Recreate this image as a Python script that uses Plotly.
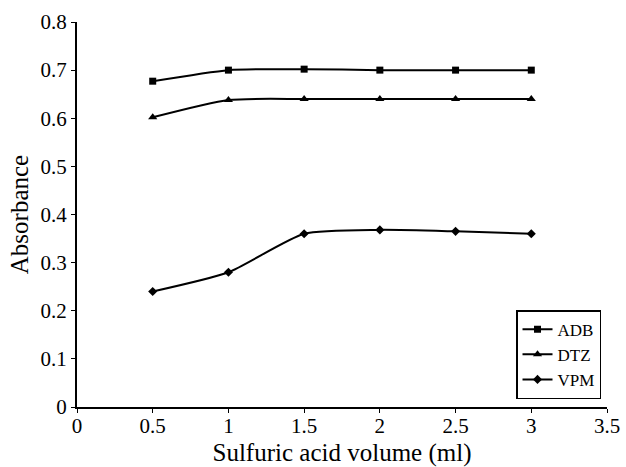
import plotly.graph_objects as go

x_vals = [0.5, 1.0, 1.5, 2.0, 2.5, 3.0]
adb = [0.677, 0.700, 0.702, 0.700, 0.700, 0.700]
dtz = [0.602, 0.638, 0.640, 0.640, 0.640, 0.640]
vpm = [0.240, 0.280, 0.360, 0.368, 0.365, 0.360]

x_ticks = [0, 0.5, 1, 1.5, 2, 2.5, 3, 3.5]
x_tick_labels = ["0", "0.5", "1", "1.5", "2", "2.5", "3", "3.5"]
y_ticks = [0, 0.1, 0.2, 0.3, 0.4, 0.5, 0.6, 0.7, 0.8]
y_tick_labels = ["0", "0.1", "0.2", "0.3", "0.4", "0.5", "0.6", "0.7", "0.8"]

series = [("ADB", adb, "square", 7), ("DTZ", dtz, "triangle-up", 8), ("VPM", vpm, "diamond", 7)]

fig = go.Figure()
for name, vals, sym, sz in series:
    fig.add_trace(go.Scatter(
        x=x_vals, y=vals, name=name, mode="lines+markers",
        line=dict(color="black", width=2, shape="spline", smoothing=0.6),
        marker=dict(symbol=sym, size=sz, color="black"),
    ))

font = "Liberation Serif"
fig.update_layout(
    width=626, height=467,
    margin=dict(l=77, r=19, t=22, b=60),
    paper_bgcolor="white", plot_bgcolor="white",
    font=dict(family=font, size=21, color="black"),
    showlegend=True,
    legend=dict(x=0.9887, y=0.136, xanchor="right", yanchor="middle",
                bordercolor="black", borderwidth=1.5, bgcolor="white",
                font=dict(family=font, size=17), tracegroupgap=0, itemwidth=30),
    xaxis=dict(range=[0, 3.5], tickvals=x_ticks, ticktext=x_tick_labels,
               showline=True, linecolor="black", linewidth=2, ticks="outside",
               ticklen=4, tickcolor="black", showgrid=False, zeroline=False,
               automargin=False, ticklabelstandoff=-5,
               title=dict(text="Sulfuric acid volume (ml)", standoff=12),
               tickfont=dict(family=font, size=21)),
    yaxis=dict(range=[0, 0.8], tickvals=y_ticks, ticktext=y_tick_labels,
               showline=True, linecolor="black", linewidth=2, ticks="outside",
               ticklen=4, tickcolor="black", showgrid=False, zeroline=False,
               automargin=False,
               title=dict(text="Absorbance", standoff=5),
               tickfont=dict(family=font, size=21)),
)
fig.write_html("out.html", config={"displayModeBar": False},
               post_script="document.body.style.margin='0px';document.body.style.overflow='hidden';")
